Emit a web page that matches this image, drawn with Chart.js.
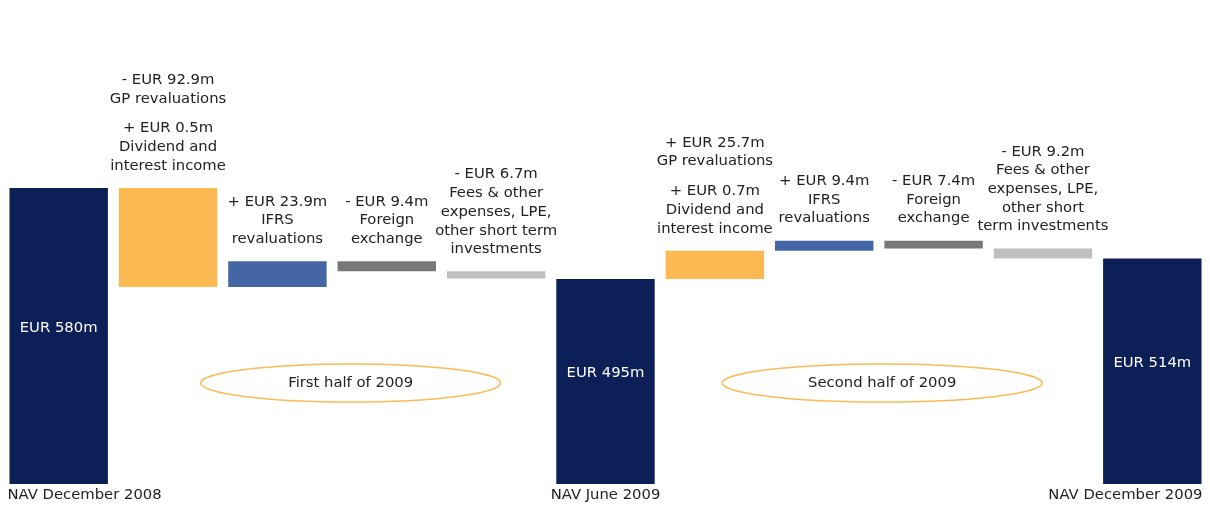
<!DOCTYPE html>
<html><head><meta charset="utf-8">
<script src="https://cdn.jsdelivr.net/npm/chart.js@4.4.1/dist/chart.umd.min.js"></script>
<style>html,body{margin:0;padding:0;background:#fff;}#wrap{width:1210px;height:507px;position:relative;}</style>
</head><body><div id="wrap"><canvas id="c" width="1210" height="507"></canvas></div>
<script>
// ---- data ----
const categories = ['NAV December 2008','','','','','NAV June 2009','','','','','NAV December 2009'];
const navValues = [580,null,null,null,null,495,null,null,null,null,514];
const changeValues = [null,-92.4,23.9,-9.4,-6.7,null,26.4,9.4,-7.4,-9.2,null];
const barKinds = ['nav','income','ifrs','fx','fees','nav','income','ifrs','fx','fees','nav'];
const navLabels = ['EUR 580m',null,null,null,null,'EUR 495m',null,null,null,null,'EUR 514m'];
const changeLabels = [
  null,
  [['- EUR 92.9m','GP revaluations'],['+ EUR 0.5m','Dividend and','interest income']],
  [['+ EUR 23.9m','IFRS','revaluations']],
  [['- EUR 9.4m','Foreign','exchange']],
  [['- EUR 6.7m','Fees & other','expenses, LPE,','other short term','investments']],
  null,
  [['+ EUR 25.7m','GP revaluations'],['+ EUR 0.7m','Dividend and','interest income']],
  [['+ EUR 9.4m','IFRS','revaluations']],
  [['- EUR 7.4m','Foreign','exchange']],
  [['- EUR 9.2m','Fees & other','expenses, LPE,','other short','term investments']],
  null
];
const periodLabels = ['First half of 2009','Second half of 2009'];
const periodCenters = [2.67, 7.53]; // category index positions

// ---- styles ----
const Y_MIN = 303.5, Y_MAX = 746.2;
const kindColors = {nav:'#0C1F56', income:'#FDB951', ifrs:'#4566A4', fx:'#787878', fees:'#BFBFBF'};
const FONT = '14.8px "DejaVu Sans", Verdana, sans-serif';
const TEXT = '#222222';

// build floating ranges
let running = 0;
const ranges = categories.map((c,i)=>{
  if (navValues[i] !== null) { running = navValues[i]; return [Y_MIN, navValues[i]]; }
  const start = running; running += changeValues[i]; return [start, running];
});

const annot = {
  id:'annot',
  afterDatasetsDraw(chart){
    const ctx = chart.ctx, meta = chart.getDatasetMeta(0);
    const xs = chart.scales.x, ys = chart.scales.y;
    ctx.save();
    ctx.font = FONT;
    ctx.textBaseline = 'middle';
    meta.data.forEach((el,i)=>{
      const top = Math.min(el.y, el.base), bottom = Math.max(el.y, el.base);
      const left = el.x - el.width/2, right = el.x + el.width/2;
      if (categories[i]) {
        ctx.fillStyle = TEXT;
        let tx = el.x, al = 'center';
        if (i === 0) { tx = left - 2; al = 'left'; }
        else if (i === categories.length-1) { tx = right + 1; al = 'right'; }
        ctx.textAlign = al;
        ctx.fillText(categories[i], tx, bottom + 11);
      }
      if (navLabels[i]) {
        ctx.fillStyle = '#ffffff';
        ctx.textAlign = 'center';
        ctx.fillText(navLabels[i], el.x, (top+bottom)/2 - 8);
      }
      if (changeLabels[i]) {
        ctx.fillStyle = TEXT;
        ctx.textAlign = 'center';
        let y = top - 22;
        const groups = changeLabels[i];
        for (let g = groups.length-1; g >= 0; g--) {
          const lines = groups[g];
          for (let l = lines.length-1; l >= 0; l--) {
            ctx.fillText(lines[l], el.x, y);
            y -= 18.7;
          }
          y -= 11;
        }
      }
    });
    const ey = ys.getPixelForValue(397.8);
    const radii = [150, 160];
    periodLabels.forEach((t,k)=>{
      const cx = xs.getPixelForValue(periodCenters[k]);
      ctx.beginPath();
      ctx.ellipse(cx, ey, radii[k], 19, 0, 0, Math.PI*2);
      ctx.strokeStyle = '#FDBA55';
      ctx.lineWidth = 1.5;
      ctx.stroke();
      ctx.fillStyle = TEXT;
      ctx.textAlign = 'center';
      ctx.fillText(t, cx, ey);
    });
    ctx.restore();
  }
};

new Chart(document.getElementById('c'), {
  type:'bar',
  data:{
    labels: categories,
    datasets:[{
      data: ranges,
      backgroundColor: barKinds.map(k=>kindColors[k]),
      borderWidth: 0,
      categoryPercentage: 1.0,
      barPercentage: 0.9
    }]
  },
  options:{
    responsive:false,
    animation:false,
    layout:{padding:{left:4,right:3,top:10,bottom:23}},
    plugins:{legend:{display:false},tooltip:{enabled:false}},
    scales:{
      x:{display:false},
      y:{display:false,min:Y_MIN,max:Y_MAX}
    }
  },
  plugins:[annot]
});
</script>
</body></html>
